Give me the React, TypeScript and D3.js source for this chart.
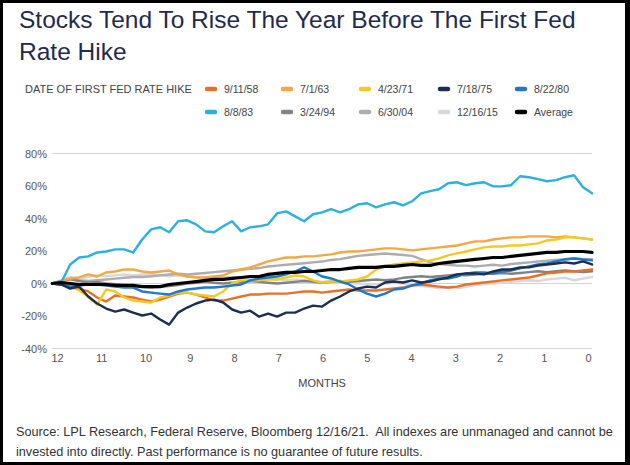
import React from "react";
import * as d3 from "d3";

// ---- data ----
const titleLines = ["Stocks Tend To Rise The Year Before The First Fed", "Rate Hike"];
const legendTitle = "DATE OF FIRST FED RATE HIKE";
const footerLines = [
  "Source: LPL Research, Federal Reserve, Bloomberg 12/16/21.  All indexes are unmanaged and cannot be",
  "invested into directly. Past performance is no guarantee of future results.",
];
const xAxisTitle = "MONTHS";
const monthTicks = [12, 11, 10, 9, 8, 7, 6, 5, 4, 3, 2, 1, 0];
const yTicks = [80, 60, 40, 20, 0, -20, -40];
const gridValues = [80, 0, -40];
const START_MONTH = 12.12;
const END_MONTH = -0.08;

const names = ["9/11/58", "7/1/63", "4/23/71", "7/18/75", "8/22/80", "8/8/83", "3/24/94", "6/30/04", "12/16/15", "Average"];
const colors = ["#e8702a", "#f5a742", "#f5c923", "#1b2f52", "#1f78c8", "#2bb0e0", "#808285", "#abadb0", "#d6d8db", "#000000"];

const s58 = [0, -0.6, -1.9, -3.1, -4.9, -8.6, -11.1, -7.4, -8.0, -8.6, -9.9, -11.1, -9.9, -8.0, -6.2, -5.6, -6.8, -8.6, -10.5, -10.5, -9.3, -8.0, -6.8, -6.8, -6.2, -6.2, -6.2, -5.6, -4.9, -4.9, -5.6, -4.9, -4.3, -3.7, -4.3, -4.3, -4.3, -3.7, -3.1, -2.5, -1.2, -0.6, -1.2, -1.9, -2.5, -1.9, -0.6, 0, 0.6, 1.2, 1.9, 2.5, 3.1, 3.7, 4.9, 6.2, 6.8, 7.4, 7.4, 8.0, 8.6];
const s63 = [0, 1.2, 3.1, 3.7, 5.6, 4.3, 6.8, 7.4, 8.6, 8.6, 7.4, 6.8, 7.4, 8.0, 5.6, 4.3, 3.7, 3.7, 4.3, 4.9, 7.4, 8.6, 9.9, 11.7, 13.6, 14.8, 16.0, 16.0, 16.7, 16.7, 17.3, 17.9, 19.1, 19.7, 19.7, 20.4, 21.0, 21.6, 21.6, 21.0, 20.4, 21.0, 21.6, 22.2, 22.8, 23.4, 24.7, 25.9, 25.9, 27.1, 27.8, 28.4, 28.4, 29.0, 29.0, 29.0, 28.4, 29.0, 28.4, 27.8, 27.1];
const s71 = [0, 0, -1.9, -4.3, -8.0, -13.0, -3.7, -4.9, -8.6, -10.5, -11.1, -11.7, -8.6, -7.4, -5.6, -5.6, -6.8, -7.4, -8.0, -4.9, 0, 1.9, 1.9, 1.9, 2.5, 2.5, 3.7, 4.9, 4.3, 1.9, 0.6, 1.2, 1.2, 1.9, 2.5, 4.3, 8.6, 10.5, 11.7, 12.3, 13.0, 13.6, 14.2, 15.4, 17.3, 18.5, 19.7, 21.0, 22.2, 22.8, 22.8, 23.4, 23.4, 24.1, 24.7, 26.5, 27.1, 28.4, 28.4, 27.8, 27.1];
const s75 = [0, -0.6, -3.1, -1.9, -8.0, -12.3, -15.4, -17.3, -16.0, -17.9, -19.7, -18.5, -22.2, -25.3, -17.9, -14.8, -12.3, -10.5, -9.9, -11.7, -16.0, -17.9, -16.7, -20.4, -18.5, -20.4, -17.9, -17.9, -15.4, -13.6, -14.2, -10.5, -8.0, -4.9, -3.1, -1.9, -2.5, 0.6, 1.2, 0.6, 1.9, 0.6, 1.2, 2.5, 3.7, 5.6, 6.2, 6.2, 5.6, 7.4, 8.6, 8.6, 9.9, 9.9, 11.1, 11.7, 12.3, 13.0, 12.3, 13.6, 11.7];
const s80 = [0, -0.6, -1.9, -1.2, -0.6, -0.6, -1.2, -1.9, -2.5, -2.5, -4.9, -5.6, -6.2, -6.8, -4.9, -3.7, -3.1, -2.5, -2.5, -1.9, -1.2, -0.6, 1.9, 3.1, 3.7, 4.3, 5.6, 7.4, 9.9, 7.4, 4.3, 3.1, 1.2, -0.6, -3.7, -6.2, -8.0, -6.2, -3.7, -3.1, -1.2, 0, 1.9, 3.1, 3.1, 4.3, 6.2, 6.8, 6.8, 6.2, 7.4, 8.0, 9.3, 10.5, 11.7, 12.3, 13.6, 14.8, 15.4, 14.8, 14.2];
const s83 = [0, 0.6, 11.7, 16.0, 16.7, 19.1, 19.7, 21.0, 21.0, 19.1, 27.1, 33.3, 34.6, 31.5, 38.3, 38.9, 36.4, 32.1, 31.5, 35.2, 38.3, 32.1, 34.6, 35.2, 36.4, 43.2, 44.4, 41.3, 38.3, 42.6, 43.8, 45.7, 43.8, 45.7, 48.7, 49.4, 46.9, 48.7, 50.0, 48.1, 50.6, 55.5, 56.8, 58.0, 61.7, 62.3, 60.5, 61.7, 62.3, 59.8, 59.8, 60.5, 66.0, 65.4, 64.2, 62.9, 63.6, 65.4, 66.6, 59.2, 55.5];
const s94 = [0, 1.5, 2.5, 1.5, 0.5, 1, 0, -0.5, -1, -1.5, -2, -2.5, -2, -1.5, -1, 0, 0.5, 1, 0.5, 0, 0.5, 1, 1.5, 1, 0.5, 0, 0.5, 1, 1.5, 1, 0.5, 1, 1.5, 1, 1.5, 2, 2.5, 2, 2.5, 3.5, 4, 4.5, 4, 4.5, 5, 5.5, 5, 5.5, 6, 6, 6.5, 6, 6.5, 7, 7.5, 7, 7.5, 8, 7.5, 7, 7.5];
const s04 = [0, 1.5, 3, 2, 1.5, 2, 2.5, 3, 3.5, 4, 4, 4.5, 5, 5.5, 6, 5.5, 6, 6.5, 7, 7.5, 8, 8.5, 9, 9.5, 10.5, 11, 11.5, 12, 12.5, 13, 13.5, 14.5, 15, 16, 17, 17.5, 18, 18.5, 18, 17.5, 17, 15, 13, 12, 11.5, 11, 11, 10.5, 11, 11.5, 11, 12, 12.5, 13, 13.5, 14, 14.5, 15, 15.5, 15, 15];
const s15 = [0, 2, 4, 3, 4, 5, 4.5, 5, 5.5, 5, 5.5, 6, 5, 4.5, 5, 4.5, 4, 3.5, 3, 3.5, 4, 3.5, 3, 2.5, 3, 2.5, 2, 2.5, 2, 1.5, 1, 1.5, 1, 0.5, 0, -0.5, -0.5, 0, 0.5, 0, -1, -1.5, -2, -3, -2.5, -3, -2, -1, -0.5, 0, 0.5, 1, 1.5, 2, 1.5, 2.5, 3, 3.5, 2, 3, 4];
const avg = [0, 0.6, 0, -0.6, -0.6, -0.6, -0.6, -1.2, -1.2, -1.2, -1.9, -1.9, -1.9, -0.6, 0, 0.6, 1.2, 1.9, 2.5, 2.5, 3.1, 3.7, 4.3, 4.3, 5.6, 6.2, 6.8, 6.8, 7.4, 7.4, 8.0, 8.6, 8.6, 9.3, 9.9, 9.9, 9.9, 10.5, 10.5, 11.1, 11.7, 11.1, 11.1, 12.3, 13.0, 13.6, 14.2, 14.8, 15.4, 16.0, 16.0, 16.7, 17.3, 17.9, 18.5, 19.1, 19.1, 19.7, 19.7, 19.7, 19.1];

const seriesValues = [s58, s63, s71, s75, s80, s83, s94, s04, s15, avg];
const drawOrder = [8, 7, 6, 0, 1, 2, 4, 3, 5, 9];

const FONT = "'Liberation Sans', Arial, Helvetica, sans-serif";

export default function App() {
  const W = 630;
  const H = 465;
  const x = d3.scaleLinear().domain([12, 0]).range([57.5, 588.5]);
  const y = d3.scaleLinear().domain([-40, 80]).range([348.5, 153.5]);
  const plotLeft = x(START_MONTH);
  const plotRight = x(END_MONTH);

  const makePath = (vals: number[]) => {
    const n = vals.length;
    const line = d3
      .line<number>()
      .x((_, i) => x(START_MONTH + ((END_MONTH - START_MONTH) * i) / (n - 1)))
      .y((d) => y(d));
    return line(vals) || "";
  };

  const legendCols = [205, 281, 359, 438, 515];
  const legendRows = [89, 112];

  return (
    <svg
      width={W}
      height={H}
      style={{ position: "absolute", left: 0, top: 0, display: "block" }}
      fontFamily={FONT}
    >
      <rect x={0} y={0} width={W} height={H} fill="#000" />
      <rect x={3} y={3} width={622} height={459} fill="#fff" />

      {titleLines.map((t, i) => (
        <text key={t} x={19} y={28 + i * 32} fontSize={24.5} fill="#1f2b4d">
          {t}
        </text>
      ))}

      <text x={25} y={93} fontSize={11} fill="#444">
        {legendTitle}
      </text>
      {names.map((nm, i) => {
        const cx = legendCols[i % 5];
        const cy = legendRows[Math.floor(i / 5)];
        return (
          <g key={nm}>
            <line x1={cx + 2} x2={cx + 10} y1={cy} y2={cy} stroke={colors[i]} strokeWidth={4.5} strokeLinecap="round" />
            <text x={cx + 19} y={cy + 4} fontSize={10.5} fill="#444">
              {nm}
            </text>
          </g>
        );
      })}

      {gridValues.map((g) => (
        <line key={g} x1={plotLeft} x2={plotRight} y1={y(g)} y2={y(g)} stroke="#d4d4d4" strokeWidth={1} />
      ))}

      {yTicks.map((t) => (
        <text key={t} x={47} y={y(t) + 4} fontSize={11} fill="#555" textAnchor="end">
          {`${t}%`}
        </text>
      ))}

      {monthTicks.map((m) => (
        <text key={m} x={x(m)} y={362} fontSize={11} fill="#555" textAnchor="middle">
          {m}
        </text>
      ))}

      <text x={(plotLeft + plotRight) / 2} y={387} fontSize={11} fill="#444" textAnchor="middle">
        {xAxisTitle}
      </text>

      {drawOrder.map((k) => (
        <path
          key={names[k]}
          d={makePath(seriesValues[k])}
          fill="none"
          stroke={colors[k]}
          strokeWidth={k === 9 ? 3.2 : 2.4}
          strokeLinejoin="round"
          strokeLinecap="round"
        />
      ))}

      {footerLines.map((t, i) => (
        <text key={i} x={16} y={436 + i * 20} fontSize={12.7} fill="#333" style={{ whiteSpace: "pre" }}>
          {t}
        </text>
      ))}
    </svg>
  );
}
